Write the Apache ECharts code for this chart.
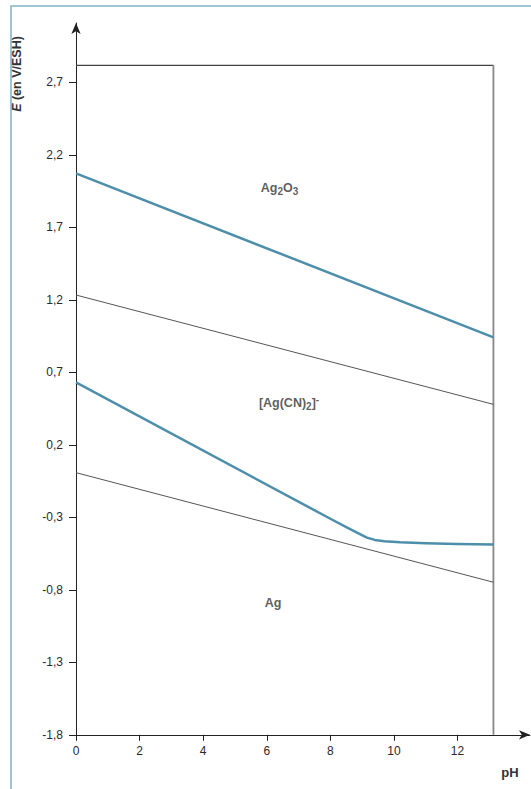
<!DOCTYPE html>
<html>
<head>
<meta charset="utf-8">
<script src="https://cdn.jsdelivr.net/npm/echarts@6/dist/echarts.min.js"></script>
<style>
html,body{margin:0;padding:0;background:#fff;}
#c{width:531px;height:789px;}
</style>
</head>
<body>
<div id="c"></div>
<script>
// ---- data ----
const xTicks = [0, 2, 4, 6, 8, 10, 12];
const yTicks = [-1.8, -1.3, -0.8, -0.3, 0.2, 0.7, 1.2, 1.7, 2.2, 2.7];
const phEnd = 13.13;
const boxTop = 2.817;
// Ag2O3 / [Ag(CN)2]- boundary
const upperBlue = [[0, 2.072], [13.13, 0.941]];
// water oxidation line (O2/H2O)
const upperGray = [[0, 1.233], [13.13, 0.479]];
// [Ag(CN)2]- / Ag boundary
const lowerBlue = [[0, 0.631], [8.0, -0.31], [8.5, -0.368], [8.9, -0.413], [9.15, -0.44], [9.4, -0.456], [9.7, -0.465], [10.2, -0.472], [11.0, -0.479], [12.0, -0.484], [13.13, -0.487]];
// water reduction line (H+/H2)
const lowerGray = [[0, 0.008], [13.13, -0.748]];
// region labels [pH, E, text]
const regionLabels = [
  [6.4, 1.97, 'Ag{sub|2}O{sub|3}'],
  [6.7, 0.49, '[Ag(CN){sub|2}]{sup|-}'],
  [6.2, -0.89, 'Ag']
];

const FONT = 'Liberation Sans, Arial, Helvetica, sans-serif';
const chart = echarts.init(document.getElementById('c'), null, {renderer: 'svg'});

const richLbl = {
  sub: {fontSize: 10, fontWeight: 'bold', fontFamily: FONT, color: '#333', padding: [7, 0, 0, 0]},
  sup: {fontSize: 10, fontWeight: 'bold', fontFamily: FONT, color: '#333', padding: [0, 0, 6, 0]}
};

chart.setOption({
  animation: false,
  backgroundColor: '#fff',
  grid: {left: 76, top: 23, width: 454, height: 711.8, containLabel: false},
  xAxis: {
    type: 'value', min: 0, max: 14.28,
    splitLine: {show: false},
    axisLine: {onZero: false, lineStyle: {color: '#222', width: 1}, symbol: ['none', 'arrow'], symbolSize: [7, 11]},
    axisTick: {show: true, length: 6, lineStyle: {color: '#222'}, customValues: xTicks},
    axisLabel: {customValues: xTicks, margin: 10, fontSize: 12, color: '#2a2a2a', fontFamily: FONT}
  },
  yAxis: {
    type: 'value', min: -1.8, max: 3.109,
    splitLine: {show: false},
    axisLine: {onZero: false, lineStyle: {color: '#222', width: 1}, symbol: ['none', 'arrow'], symbolSize: [7, 11]},
    axisTick: {show: true, length: 7, lineStyle: {color: '#222'}, customValues: yTicks},
    axisLabel: {customValues: yTicks, margin: 13, fontSize: 12, color: '#2a2a2a', fontFamily: FONT,
      formatter: v => v.toFixed(1).replace('.', ',')}
  },
  graphic: [
    {type: 'rect', shape: {x: 11, y: 6, width: 560, height: 820}, style: {fill: 'none', stroke: '#7fb1c7', lineWidth: 1.5}, silent: true},
    {type: 'text', x: 17, y: 74, rotation: Math.PI / 2,
      style: {text: '{i|E}{n| (en V/ESH)}', align: 'center', verticalAlign: 'middle', fontSize: 12.5, fontWeight: 'bold', fontFamily: FONT, fill: '#333',
        rich: {i: {fontStyle: 'italic', fontWeight: 'bold', fontSize: 12.5, fontFamily: FONT, color: '#333'},
               n: {fontWeight: 'bold', fontSize: 12.5, fontFamily: FONT, color: '#333'}}}},
    {type: 'text', x: 510, y: 772,
      style: {text: 'pH', align: 'center', verticalAlign: 'middle', fontSize: 13, fontWeight: 'bold', fontFamily: FONT, fill: '#333'}}
  ],
  series: [
    {type: 'line', data: [[0, boxTop], [phEnd, boxTop]], symbol: 'none', lineStyle: {color: '#444', width: 1.2}, silent: true},
    {type: 'line', data: [[phEnd, boxTop], [phEnd, -1.8]], symbol: 'none', lineStyle: {color: '#888', width: 1.8}, silent: true},
    {type: 'line', data: upperGray, symbol: 'none', lineStyle: {color: '#555', width: 1}},
    {type: 'line', data: lowerGray, symbol: 'none', lineStyle: {color: '#555', width: 1}},
    {type: 'line', data: upperBlue, symbol: 'none', lineStyle: {color: '#4d8eab', width: 2.5}},
    {type: 'line', data: lowerBlue, symbol: 'none', lineStyle: {color: '#4d8eab', width: 2.5, join: 'round'}},
    {type: 'scatter', data: regionLabels.map(d => [d[0], d[1]]), symbolSize: 0, silent: true,
      label: {show: true, position: 'inside', fontSize: 12.5, fontWeight: 'bold', fontFamily: FONT, color: '#333',
        formatter: p => regionLabels[p.dataIndex][2], rich: richLbl}}
  ]
});
</script>
</body>
</html>
